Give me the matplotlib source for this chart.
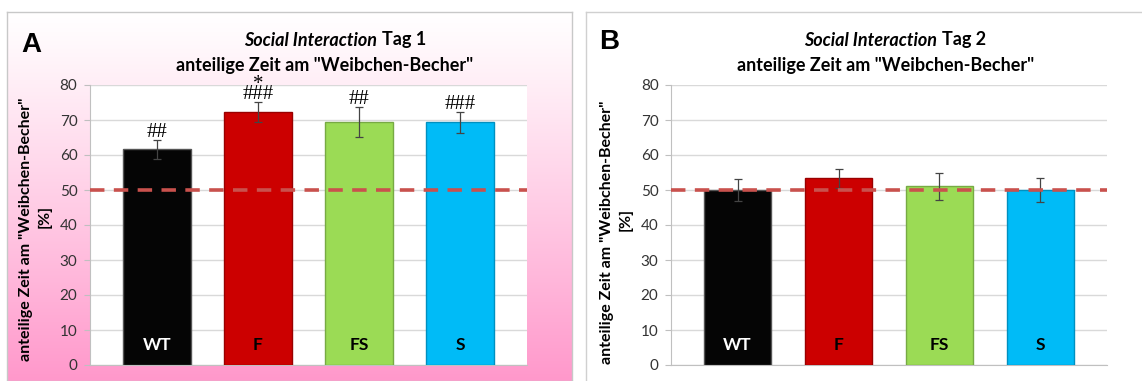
import numpy as np
import matplotlib.pyplot as plt

plt.rcParams['font.family'] = ['Lato', 'DejaVu Sans']

groups = ['WT', 'F', 'FS', 'S']
label_colors = ['white', 'black', 'black', 'black']
bar_colors = ['#050505', '#cc0000', '#9bdb55', '#00bbf7']
edge_colors = ['#555555', '#990000', '#77aa44', '#0090c0']

day1_mean = [61.6, 72.2, 69.5, 69.4]
day1_err = [2.7, 2.85, 4.3, 3.0]
day1_marks = ['##', '###', '##', '###']
day1_star = ['', '*', '', '']

day2_mean = [50.0, 53.3, 51.1, 50.0]
day2_err = [3.1, 2.7, 3.9, 3.4]
day2_marks = ['', '', '', '']
day2_star = ['', '', '', '']

yticks = [0, 10, 20, 30, 40, 50, 60, 70, 80]
chance = 50

W, H = 1142, 381
fig = plt.figure(figsize=(W / 100, H / 100), dpi=100)


def px(x0, y0, x1, y1):
    # pixel box (top-left origin) -> figure fraction rect
    return [x0 / W, 1 - y1 / H, (x1 - x0) / W, (y1 - y0) / H]


# panel A frame with white-to-pink gradient
bgA = fig.add_axes(px(7, 12, 572, 381), zorder=-5)
grad = np.linspace(0, 1, 256) ** 1.1
top = np.array([1.0, 1.0, 1.0])
bottom = np.array([255, 152, 203]) / 255
img = top[None, :] * (1 - grad[:, None]) + bottom[None, :] * grad[:, None]
bgA.imshow(img[:, None, :], aspect='auto', extent=[0, 1, 0, 1], origin='upper')
bgA.set_xticks([])
bgA.set_yticks([])
for s in bgA.spines.values():
    s.set_color('#c8c8c8')
    s.set_linewidth(1)

bgB = fig.add_axes(px(586, 12, 1150, 390), zorder=-5)
bgB.set_xticks([])
bgB.set_yticks([])
for s in bgB.spines.values():
    s.set_color('#d0d0d0')
    s.set_linewidth(1)


def panel(rect, means, errs, marks, stars, letter, letter_xy, day, split_x, title2_x, ylab_x, ylab_y):
    ax = fig.add_axes(px(*rect))
    ax.set_facecolor('white')
    x = np.arange(len(groups))
    ax.bar(x, means, width=0.67, color=bar_colors, edgecolor=edge_colors,
           linewidth=1, zorder=3)
    ax.errorbar(x, means, yerr=errs, fmt='none', ecolor='#444444',
                elinewidth=0.9, capsize=3, capthick=0.9, zorder=4)
    ax.axhline(chance, color='#c9514d', lw=2.6, ls=(0, (4, 2.6)), zorder=5)
    for i in range(len(groups)):
        ax.text(x[i], 5.7, groups[i], ha='center', va='center',
                color=label_colors[i], fontsize=12.5, fontweight='bold', zorder=6)
        if marks[i]:
            # significance marks; the star sits directly on top of the hashes
            s = marks[i] if not stars[i] else stars[i] + '\n' + marks[i]
            ax.text(x[i], means[i] + errs[i] - 0.6, s, ha='center', va='bottom',
                    fontsize=15, family='Liberation Serif', linespacing=0.42,
                    zorder=6)
    ax.set_ylim(0, 80)
    ax.set_xlim(-0.66, 3.66)
    ax.set_yticks(yticks)
    ax.set_xticks([])
    ax.tick_params(axis='y', length=4, color='#bfbfbf', labelsize=11,
                   labelcolor='#333333', pad=5)
    ax.grid(axis='y', color='#d9d9d9', lw=1, zorder=0)
    for s in ['top', 'right']:
        ax.spines[s].set_visible(False)
    for s in ['left', 'bottom']:
        ax.spines[s].set_color('#c0c0c0')

    fig.text(letter_xy[0] / W, 1 - letter_xy[1] / H, letter, fontsize=20,
             fontweight='bold', family='Liberation Sans', ha='center', va='center')
    fig.text(split_x / W, 1 - 40 / H, 'Social Interaction', ha='right', va='center',
             fontsize=13, fontweight='bold', style='italic')
    fig.text((split_x + 5) / W, 1 - 40 / H, 'Tag ' + str(day), ha='left', va='center',
             fontsize=13, fontweight='bold')
    fig.text(title2_x / W, 1 - 66 / H, 'anteilige Zeit am "Weibchen-Becher"',
             ha='center', va='center', fontsize=13, fontweight='bold')
    fig.text(ylab_x / W, 1 - ylab_y / H, 'anteilige Zeit am "Weibchen-Becher"',
             rotation=90, ha='center', va='center', fontsize=11.5, fontweight='bold')
    fig.text((ylab_x + 19) / W, 1 - (ylab_y - 13) / H, '[%]',
             rotation=90, ha='center', va='center', fontsize=11.5, fontweight='bold')
    return ax


panel((90, 85, 527, 365), day1_mean, day1_err, day1_marks, day1_star,
      'A', (31, 45), 1, 377, 325, 26, 229)
panel((671, 85, 1107, 365), day2_mean, day2_err, day2_marks, day2_star,
      'B', (609, 42), 2, 937, 886, 607, 232)

fig.savefig('out.png', dpi=100)
